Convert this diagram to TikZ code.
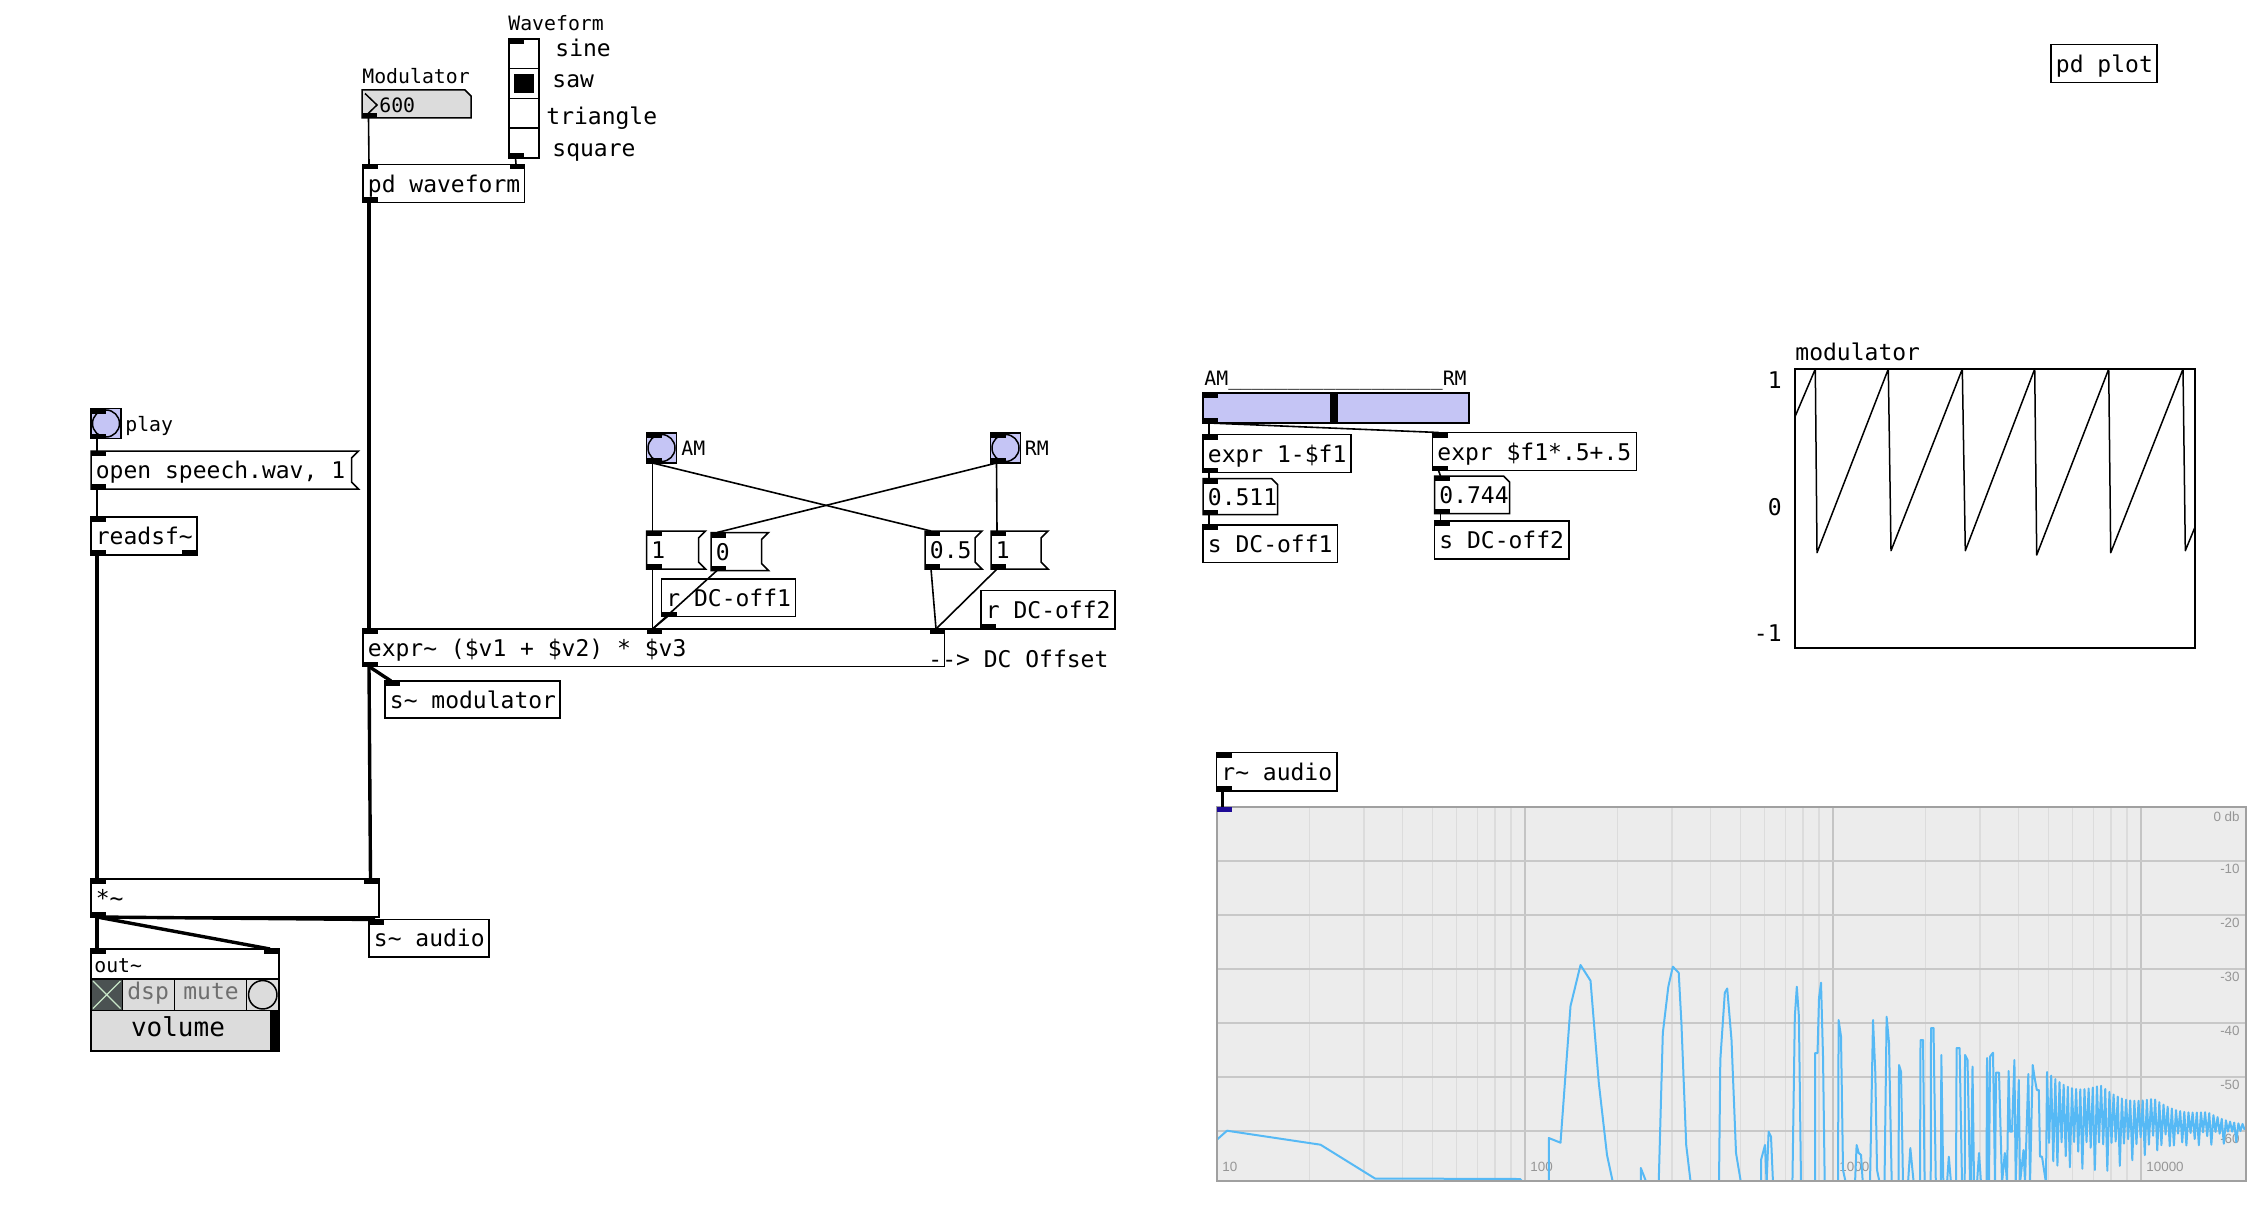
\documentclass[tikz,border=0pt]{standalone}
\usepackage{fontspec}
\newfontfamily\pdmono{DejaVu Sans Mono}
\newfontfamily\pdsans{Liberation Sans}
\newcommand{\tld}{\char"7E\relax}
\definecolor{lav}{RGB}{197,197,245}
\definecolor{guigray}{RGB}{220,220,220}
\definecolor{togfill}{RGB}{75,82,82}
\definecolor{togx}{RGB}{200,230,200}
\definecolor{celltext}{RGB}{110,110,110}
\definecolor{specbg}{RGB}{236,236,236}
\definecolor{gridminor}{RGB}{220,220,220}
\definecolor{gridmajor}{RGB}{196,196,196}
\definecolor{gridh}{RGB}{200,200,200}
\definecolor{specborder}{RGB}{160,160,160}
\definecolor{speclabel}{RGB}{150,150,150}
\definecolor{specline}{RGB}{86,185,245}
\definecolor{inblue}{RGB}{30,10,150}
\tikzset{
 pdbox/.style={draw=black, line width=0.75pt, fill=white},
 ctl/.style={line width=0.8pt},
 sig/.style={line width=1.7pt},
 pdtxt/.style={inner sep=0pt, anchor=west, font=\pdmono\fontsize{11.5}{13}\selectfont, text height=10pt, text depth=1.3pt},
 pdlbl/.style={inner sep=0pt, anchor=west, font=\pdmono\fontsize{9.9}{11}\selectfont, text height=8.5pt, text depth=0.6pt},
 speclbl/.style={inner sep=0pt, text=speclabel, font=\pdsans\fontsize{6.7}{8}\selectfont},
}
\newcommand{\pdinl}[2]{\fill (#1,#2) rectangle ++(15,5);}
\newcommand{\pdoutl}[2]{\fill (#1,#2) rectangle ++(15,-5);}
\newcommand{\pdobj}[6]{%
 \draw[pdbox] (#2,#3) rectangle (#4,#5);
 \node[pdtxt] (#1) at ({#2+4.5},{(#3+#5)/2}) {#6};}
\newcommand{\pdmsg}[6]{%
 \draw[pdbox] (#2,#3) -- (#4,#3) -- ({#4-7},{#3+7}) -- ({#4-7},{#5-7}) -- (#4,#5) -- (#2,#5) -- cycle;
 \node[pdtxt] (#1) at ({#2+4.5},{(#3+#5)/2}) {#6};}
\newcommand{\pdnum}[6]{%
 \draw[pdbox] (#2,#3) -- ({#4-6},#3) -- (#4,{#3+6}) -- (#4,#5) -- (#2,#5) -- cycle;
 \node[pdtxt] (#1) at ({#2+4.5},{(#3+#5)/2}) {#6};}
\newcommand{\pdbang}[3]{%
 \draw[pdbox, fill=lav] (#2,#3) rectangle ++(30,30);
 \draw[line width=0.75pt] ({#2+15},{#3+15}) circle[radius=6.75pt];
 \pdinl{#2}{#3}\pdoutl{#2}{#3+30}
 \coordinate (#1) at ({#2+6},{#3+30});}
\begin{document}
\begin{tikzpicture}[x=0.5pt,y=-0.5pt]
\useasboundingbox (0,0) rectangle (2253,1209);
\fill[white] (0,0) rectangle (2253,1209);

% ---------- Modulator number box ----------
\node[pdlbl] (modlabel) at (362,76) {Modulator};
\draw[pdbox, fill=guigray] (362,90) -- (465,90) -- (471,96) -- (471,118) -- (362,118) -- cycle;
\draw[line width=0.75pt] (365,93.5) -- (377,105) -- (365,116.5);
\node[pdlbl] (modnum) at (379,105) {600};
\pdoutl{362}{118}
\coordinate (mod-o) at (368.5,118);

% ---------- Waveform radio ----------
\node[pdlbl] (wavelabel) at (508,23) {Waveform};
\draw[pdbox] (509,39) rectangle (539,158);
\foreach \yy in {68.75,98.5,128.25} \draw[line width=0.75pt] (509,\yy) -- (539,\yy);
\fill (514,74) rectangle (534,93.5);
\pdinl{509}{39}\pdoutl{509}{158}
\coordinate (wave-o) at (515.5,158);
\node[pdtxt] (lsine) at (555,48) {sine};
\node[pdtxt] (lsaw) at (552,79) {saw};
\node[pdtxt] (ltri) at (546,115.5) {triangle};
\node[pdtxt] (lsq) at (552,148) {square};

% ---------- pd waveform ----------
\pdobj{pdw}{363}{164.3}{524.5}{202.5}{pd waveform}
\pdinl{363}{164.3}\pdinl{509.5}{164.3}\pdoutl{363}{202.5}
\coordinate (pdw-i0) at (369,164.3);
\coordinate (pdw-i1) at (516,164.3);
\coordinate (pdw-o) at (369,202.5);

% ---------- play / readsf ----------
\pdbang{play-o}{91}{408.5}
\node[pdlbl] (playlbl) at (125,423.5) {play};
\pdmsg{openmsg}{91}{451}{358.5}{489}{open speech.wav, 1}
\pdinl{91}{451}\pdoutl{91}{489}
\coordinate (open-i) at (97,451);
\coordinate (open-o) at (97,489);
\pdobj{readsf}{91}{517}{197}{555}{readsf\tld}
\pdinl{91}{517}\pdoutl{91}{555}\pdoutl{182}{555}
\coordinate (rsf-i) at (97,517);
\coordinate (rsf-o) at (97,555);

% ---------- expr~ ----------
\pdobj{exprs}{363}{629}{944.5}{666.5}{expr\tld\ (\$v1 + \$v2) * \$v3}
\pdinl{363}{629}\pdinl{646.5}{629}\pdinl{929.5}{629}\pdoutl{363}{666.5}
\coordinate (expr-i0) at (369,629);
\coordinate (expr-i1) at (652.5,629);
\coordinate (expr-i2) at (936,629);
\coordinate (expr-o) at (369,666.5);
\node[pdtxt] (dcoff) at (928,659) {--> DC Offset};

\pdobj{smod}{385}{681}{560}{718}{s\tld\ modulator}
\pdinl{385}{681}
\coordinate (smod-i) at (391,681);

% ---------- *~ ----------
\pdobj{mul}{91}{879}{379}{917}{*\tld}
\pdinl{91}{879}\pdinl{364}{879}\pdoutl{91}{917}
\coordinate (mul-i0) at (97,879);
\coordinate (mul-i1) at (370.5,879);
\coordinate (mul-o) at (97,917);
\pdobj{saud}{369}{919.5}{489}{957}{s\tld\ audio}
\pdinl{369}{919.5}
\coordinate (saud-i) at (375,919.5);

% ---------- out~ ----------
\draw[pdbox] (91,949) rectangle (279,1051);
\node[pdlbl] (outlbl) at (94,965) {out\tld};
\fill[togfill] (91,979) rectangle (122.5,1010.5);
\draw[togx, line width=0.6pt] (93,981) -- (120.5,1008.5) (93,1008.5) -- (120.5,981);
\draw[line width=0.75pt, fill=guigray] (122.5,979) rectangle (174.5,1010.5);
\draw[line width=0.75pt, fill=guigray] (174.5,979) rectangle (246.5,1010.5);
\draw[line width=0.75pt, fill=guigray] (246.5,979) rectangle (279,1010.5);
\draw[line width=0.75pt] (91,979) rectangle (122.5,1010.5);
\draw[line width=0.75pt] (262.75,994.75) circle[radius=7.1pt];
\node[pdtxt, text=celltext] (dsp) at (127,990.5) {dsp};
\node[pdtxt, text=celltext] (mute) at (183,990.5) {mute};
\draw[line width=0.75pt, fill=guigray] (91,1010.5) rectangle (279,1051);
\fill (270,1010.5) rectangle (279,1051);
\node[inner sep=0pt, font=\pdmono\fontsize{13}{15}\selectfont] (vol) at (178,1026.5) {volume};
\draw[line width=0.75pt] (91,949) rectangle (279,1051);
\pdinl{91}{949}\pdinl{264}{949}
\coordinate (out-i0) at (97,949);
\coordinate (out-i1) at (270,949);

% ---------- AM / RM ----------
\pdbang{am-o}{646.5}{433}
\node[pdlbl] (amlbl) at (681,447.5) {AM};
\pdbang{rm-o}{990.5}{433}
\node[pdlbl] (rmlbl) at (1024.5,447.5) {RM};

\pdmsg{m1l}{646.5}{531}{705.5}{569}{1}
\pdinl{646.5}{531}\pdoutl{646.5}{569}
\coordinate (m1l-i) at (652.5,531);
\coordinate (m1l-o) at (652.5,569);
\pdmsg{m0}{711}{532.5}{768.5}{570.5}{0}
\pdinl{711}{532.5}\pdoutl{711}{570.5}
\coordinate (m0-i) at (717,532.5);
\coordinate (m0-o) at (717,570.5);
\pdmsg{m05}{925}{531}{982}{569}{0.5}
\pdinl{925}{531}\pdoutl{925}{569}
\coordinate (m05-i) at (931,531);
\coordinate (m05-o) at (931,569);
\pdmsg{m1r}{991}{531}{1048}{569}{1}
\pdinl{991}{531}\pdoutl{991}{569}
\coordinate (m1r-i) at (997,531);
\coordinate (m1r-o) at (997,569);

\pdobj{rdc1}{661.5}{579}{795.5}{616.5}{r DC-off1}
\pdoutl{661.5}{616.5}
\coordinate (rdc1-o) at (667.5,616.5);
\pdobj{rdc2}{981}{590.5}{1115}{629}{r DC-off2}
\pdoutl{981}{629}
\coordinate (rdc2-o) at (987,629);

% ---------- slider group ----------
\node[pdlbl] (amrm) at (1204,378) {AM\_\_\_\_\_\_\_\_\_\_\_\_\_\_\_\_\_\_RM};
\draw[pdbox, fill=lav] (1203,393) rectangle (1469,423);
\fill (1330,393) rectangle (1337.5,423);
\pdinl{1203}{393}\pdoutl{1203}{423}
\coordinate (sl-o) at (1209,423);
\pdobj{exa}{1203}{434.5}{1351}{472.5}{expr 1-\$f1}
\pdinl{1203}{434.5}\pdoutl{1203}{472.5}
\coordinate (ea-i) at (1209,434.5);
\coordinate (ea-o) at (1209,472.5);
\pdobj{exb}{1432.5}{432.5}{1636.5}{470.5}{expr \$f1*.5+.5}
\pdinl{1432.5}{432.5}\pdoutl{1432.5}{470.5}
\coordinate (eb-i) at (1438.5,432.5);
\coordinate (eb-o) at (1438.5,470.5);
\pdnum{numa}{1203}{478.5}{1277.5}{514.5}{0.511}
\pdinl{1203}{478.5}\pdoutl{1203}{514.5}
\coordinate (na-i) at (1209,478.5);
\coordinate (na-o) at (1209,514.5);
\pdnum{numb}{1434.5}{476}{1509.5}{513.5}{0.744}
\pdinl{1434.5}{476}\pdoutl{1434.5}{513.5}
\coordinate (nb-i) at (1440.5,476);
\coordinate (nb-o) at (1440.5,513.5);
\pdobj{sdc1}{1203}{525}{1337.5}{562.5}{s DC-off1}
\pdinl{1203}{525}
\coordinate (sa-i) at (1209,525);
\pdobj{sdc2}{1434.5}{521}{1569}{559}{s DC-off2}
\pdinl{1434.5}{521}
\coordinate (sb-i) at (1440.5,521);

% ---------- modulator graph ----------
\node[pdtxt] (modglbl) at (1795,352) {modulator};
\draw[line width=0.75pt] (1795,369) rectangle (2195,648);
\node[pdtxt, anchor=east] (y1) at (1782,379.5) {1};
\node[pdtxt, anchor=east] (y0) at (1782,507) {0};
\node[pdtxt, anchor=east] (ym1) at (1782,633) {-1};
\draw[line width=0.75pt, line join=round] (1795,416.7) -- (1815.3,369) -- (1817,552.7) -- (1888.3,369) -- (1891,550.7) -- (1962.3,369) -- (1965.3,550.7) -- (2034.7,369) -- (2036.7,555) -- (2108.7,369) -- (2110.7,552.7) -- (2183,369) -- (2185.3,550.7) -- (2195,527);

% ---------- pd plot ----------
\pdobj{pdplot}{2051}{44.5}{2157}{82.5}{pd plot}

% ---------- r~ audio + spectrum ----------
\pdobj{raud}{1216.5}{752.5}{1337}{791}{r\tld\ audio}
\pdinl{1216.5}{752.5}\pdoutl{1216.5}{791}
\coordinate (raud-o) at (1222.5,791);
\coordinate (spec-i) at (1222.5,807);

\fill[specbg] (1216.5,807) rectangle (2246,1181);
\foreach \base in {1217,1525,1833}{
  \foreach \m in {2,...,9}{
    \draw[gridminor, line width=0.75pt] ({\base+308*log10(\m)},807) -- ({\base+308*log10(\m)},1181);
  }
}
\foreach \xx in {1525,1833,2141} \draw[gridmajor, line width=1pt] (\xx,807) -- (\xx,1181);
\foreach \k in {1,...,6} \draw[gridh, line width=0.8pt] (1216.5,{807+54*\k}) -- (2246,{807+54*\k});
\node[speclbl, anchor=west] (f10) at (1222,1167) {10};
\node[speclbl, anchor=west] (f100) at (1530,1167) {100};
\node[speclbl, anchor=west] (f1000) at (1839,1167) {1000};
\node[speclbl, anchor=west] (f10000) at (2146,1167) {10000};
\node[speclbl, anchor=east] (db0) at (2240,817) {0 db};
\node[speclbl, anchor=east] (db10) at (2240,869) {-10};
\node[speclbl, anchor=east] (db20) at (2240,923) {-20};
\node[speclbl, anchor=east] (db30) at (2240,977) {-30};
\node[speclbl, anchor=east] (db40) at (2240,1031) {-40};
\node[speclbl, anchor=east] (db50) at (2240,1085) {-50};
\node[speclbl, anchor=east] (db60) at (2240,1139) {-60};
\begin{scope}
\clip (1216.5,807) rectangle (2246,1181);
\draw[specline, line width=1pt, line join=round]
 (1216.5,1140) -- (1227,1130.7) -- (1320.5,1144.7) -- (1375,1178.5) -- (1520,1179) -- (1524,1183) -- (1548.8,1183) -- (1548.8,1138) -- (1560.5,1142.7) -- (1570.5,1006) -- (1580.5,965) -- (1590.5,980.7) -- (1598.8,1083) -- (1607,1155) -- (1613,1183) -- (1640.8,1183) -- (1640.8,1168) -- (1646.6,1183) -- (1658.7,1183) -- (1662.8,1033) -- (1668.3,986.7) -- (1672.8,966.7) -- (1678.7,972.7) -- (1681.4,1023) -- (1686.2,1145) -- (1690.7,1183) -- (1719,1183) -- (1720.3,1060) -- (1724.8,992.7) -- (1727.2,988.5) -- (1731.5,1040) -- (1736,1153) -- (1741,1183) -- (1761,1183) -- (1761,1160) -- (1765,1145) -- (1766.6,1183) -- (1768.6,1131.7) -- (1771,1136.7) -- (1773,1183) -- (1792.4,1183) -- (1794.8,1016.7) -- (1796.8,986.7) -- (1798.9,1016.7) -- (1801,1183) -- (1815,1183) -- (1815,1053) -- (1817.5,1053) -- (1819,998) -- (1821,982.7) -- (1823,1056.7) -- (1824.7,1183) -- (1838,1183) -- (1838.6,1020) -- (1841,1036.7) -- (1843,1170) -- (1845.8,1183) -- (1855,1183) -- (1856.6,1145) -- (1858.7,1153) -- (1861,1155) -- (1862.8,1183) -- (1870,1183) -- (1873,1020) -- (1875.3,1073) -- (1877,1170) -- (1879.7,1183) -- (1884.5,1183) -- (1886.6,1016.7) -- (1889,1043) -- (1891.7,1183) -- (1898.5,1183) -- (1899,1065) -- (1901,1071.7) -- (1903,1183) -- (1908,1183) -- (1910.3,1148) -- (1913.7,1183) -- (1920,1183) -- (1920.5,1040) -- (1923,1040) -- (1924.6,1183) -- (1930.7,1183) -- (1931,1028) -- (1933.5,1028) -- (1935.8,1183) -- (1940.9,1183) -- (1941.3,1055) -- (1943.3,1183) -- (1947,1183) -- (1948.8,1156.7) -- (1951,1183) -- (1956,1183) -- (1956.6,1048) -- (1959.6,1048) -- (1962,1183) -- (1964.7,1183) -- (1965,1055) -- (1967.5,1060) -- (1970,1183) -- (1971,1183) -- (1972.5,1066.7) -- (1974,1183) -- (1977,1183) -- (1979,1153) -- (1981,1183) -- (1986.5,1183) -- (1987,1058) -- (1989,1183) -- (1990,1056.7) -- (1993,1052.7) -- (1995,1183) -- (1996,1072.7) -- (1999,1072.7) -- (2002,1183) -- (2004.8,1153) -- (2007,1183) -- (2008.6,1071) -- (2010,1131.7) -- (2012,1131.7) -- (2014.4,1060) -- (2015.7,1183) -- (2018.8,1080) -- (2020,1183) -- (2023.5,1150) -- (2025,1183) -- (2028.3,1074) -- (2030,1183) -- (2032.7,1065) -- (2034.4,1076.7) -- (2036.8,1090) -- (2038.8,1090) -- (2040,1156.7) -- (2042,1156.7) -- (2044,1170) -- (2046,1183)
 -- plot[variable=\jj, samples at={0,...,95}] ({2047+2.08*\jj}, {(1-mod(\jj,2))*(1072+0.52*\jj+(11-0.08*\jj)*abs(sin(\jj*97))) + mod(\jj,2)*min(1183,1185-0.47*\jj-(42-0.32*\jj)*abs(sin(\jj*61+30)))});
\end{scope}
\draw[specborder, line width=1pt] (1216.5,807) rectangle (2246,1181);
\fill[inblue] (1216.5,807) rectangle ++(15,5);

% ---------- connections ----------
\draw[ctl] (mod-o) -- (pdw-i0);
\draw[ctl] (wave-o) -- (pdw-i1);
\draw[sig] (pdw-o) -- (expr-i0);
\draw[ctl] (play-o) -- (open-i);
\draw[ctl] (open-o) -- (rsf-i);
\draw[sig] (rsf-o) -- (mul-i0);
\draw[sig] (expr-o) -- (smod-i);
\draw[sig] (expr-o) -- (mul-i1);
\draw[sig] (mul-o) -- (saud-i);
\draw[sig] (mul-o) -- (out-i0);
\draw[sig] (mul-o) -- (out-i1);
\draw[ctl] (am-o) -- (m1l-i);
\draw[ctl] (am-o) -- (m05-i);
\draw[ctl] (rm-o) -- (m1r-i);
\draw[ctl] (rm-o) -- (m0-i);
\draw[ctl] (m1l-o) -- (expr-i1);
\draw[ctl] (m0-o) -- (expr-i1);
\draw[ctl] (rdc1-o) -- (expr-i1);
\draw[ctl] (m05-o) -- (expr-i2);
\draw[ctl] (m1r-o) -- (expr-i2);
\draw[ctl] (rdc2-o) -- (expr-i2);
\draw[ctl] (sl-o) -- (ea-i);
\draw[ctl] (sl-o) -- (eb-i);
\draw[ctl] (ea-o) -- (na-i);
\draw[ctl] (eb-o) -- (nb-i);
\draw[ctl] (na-o) -- (sa-i);
\draw[ctl] (nb-o) -- (sb-i);
\draw[sig] (raud-o) -- (spec-i);
\end{tikzpicture}
\end{document}
